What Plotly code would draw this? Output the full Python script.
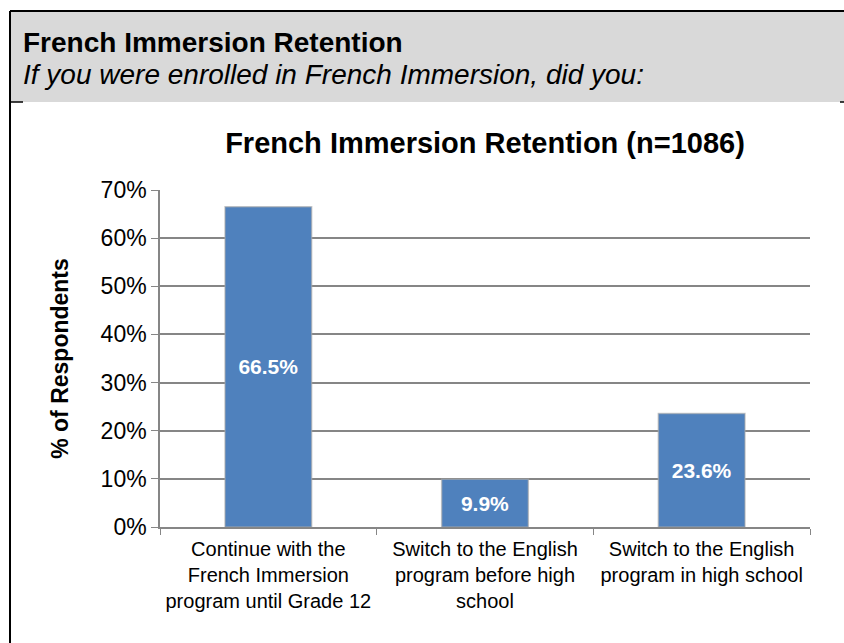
import plotly.graph_objects as go

categories = [
    "Continue with the<br>French Immersion<br>program until Grade 12",
    "Switch to the English<br>program before high<br>school",
    "Switch to the English<br>program in high school",
]
values = [66.5, 9.9, 23.6]
value_labels = ["66.5%", "9.9%", "23.6%"]
y_ticks = [0, 10, 20, 30, 40, 50, 60, 70]
y_tick_labels = ["0%", "10%", "20%", "30%", "40%", "50%", "60%", "70%"]

W, H = 844, 643
L, R, T, B = 160, 34, 190, 116
PW, PH = W - L - R, H - T - B


def px(x):
    return (x - L) / PW


def py(y):
    return (H - B - y) / PH


FONT = "Liberation Sans, Arial, sans-serif"

fig = go.Figure()
fig.add_trace(
    go.Bar(
        x=categories,
        y=values,
        text=value_labels,
        textposition="inside",
        insidetextanchor="middle",
        textfont=dict(color="white", size=21, family=FONT, weight="bold"),
        marker=dict(color="#4f81bd", line=dict(color="rgba(170,170,170,0.6)", width=1.5)),
        showlegend=False,
        hoverinfo="skip",
    )
)

shapes = [
    # header band
    dict(type="rect", xref="paper", yref="paper", x0=px(10), x1=px(844), y0=py(102), y1=py(11),
         fillcolor="#d9d9d9", line=dict(width=0), layer="below"),
    # top border
    dict(type="line", xref="paper", yref="paper", x0=px(10), x1=px(844), y0=py(11), y1=py(11),
         line=dict(color="black", width=2)),
    # left border
    dict(type="line", xref="paper", yref="paper", x0=px(10), x1=px(10), y0=py(11), y1=py(643),
         line=dict(color="black", width=2)),
    # small ticks under the header
    dict(type="line", xref="paper", yref="paper", x0=px(10), x1=px(23), y0=py(102), y1=py(102),
         line=dict(color="black", width=1.5)),
    dict(type="line", xref="paper", yref="paper", x0=px(840), x1=px(844), y0=py(102), y1=py(102),
         line=dict(color="black", width=1.5)),
]

annotations = [
    dict(text="<b>French Immersion Retention</b>", xref="paper", yref="paper",
         x=px(21), y=py(43), xanchor="left", yanchor="middle", showarrow=False,
         font=dict(size=28, color="black", family=FONT)),
    dict(text="<i>If you were enrolled in French Immersion, did you:</i>", xref="paper", yref="paper",
         x=px(21), y=py(74), xanchor="left", yanchor="middle", showarrow=False,
         font=dict(size=28, color="black", family=FONT)),
]

fig.update_layout(
    width=W,
    height=H,
    margin=dict(l=L, r=R, t=T, b=B),
    paper_bgcolor="white",
    plot_bgcolor="white",
    bargap=0.6,
    font=dict(family=FONT, color="black"),
    title=dict(text="<b>French Immersion Retention (n=1086)</b>", x=0.5, xref="paper",
               y=1 - 143 / H, yanchor="middle", font=dict(size=29, color="black")),
    shapes=shapes,
    annotations=annotations,
)

fig.update_xaxes(
    type="category",
    tickson="boundaries",
    ticks="outside",
    ticklen=6,
    tickcolor="#868686",
    showline=True,
    linecolor="#868686",
    linewidth=1.5,
    showgrid=False,
    tickfont=dict(size=20, color="black"),
    ticklabelstandoff=3,
)

fig.update_yaxes(
    range=[0, 70],
    tickvals=y_ticks,
    ticktext=y_tick_labels,
    ticks="outside",
    ticklen=7,
    tickcolor="#868686",
    showline=True,
    linecolor="#868686",
    linewidth=1.5,
    showgrid=True,
    gridcolor="#868686",
    gridwidth=1.5,
    zeroline=False,
    tickfont=dict(size=23, color="black"),
    title=dict(text="<b>% of Respondents</b>", font=dict(size=23, color="black"), standoff=26),
)

# the page template has an 8px body margin; drop it so the figure fills the window
fig.write_html(
    "out.html",
    config={"displayModeBar": False},
    post_script="document.body.style.margin = '0';",
)
